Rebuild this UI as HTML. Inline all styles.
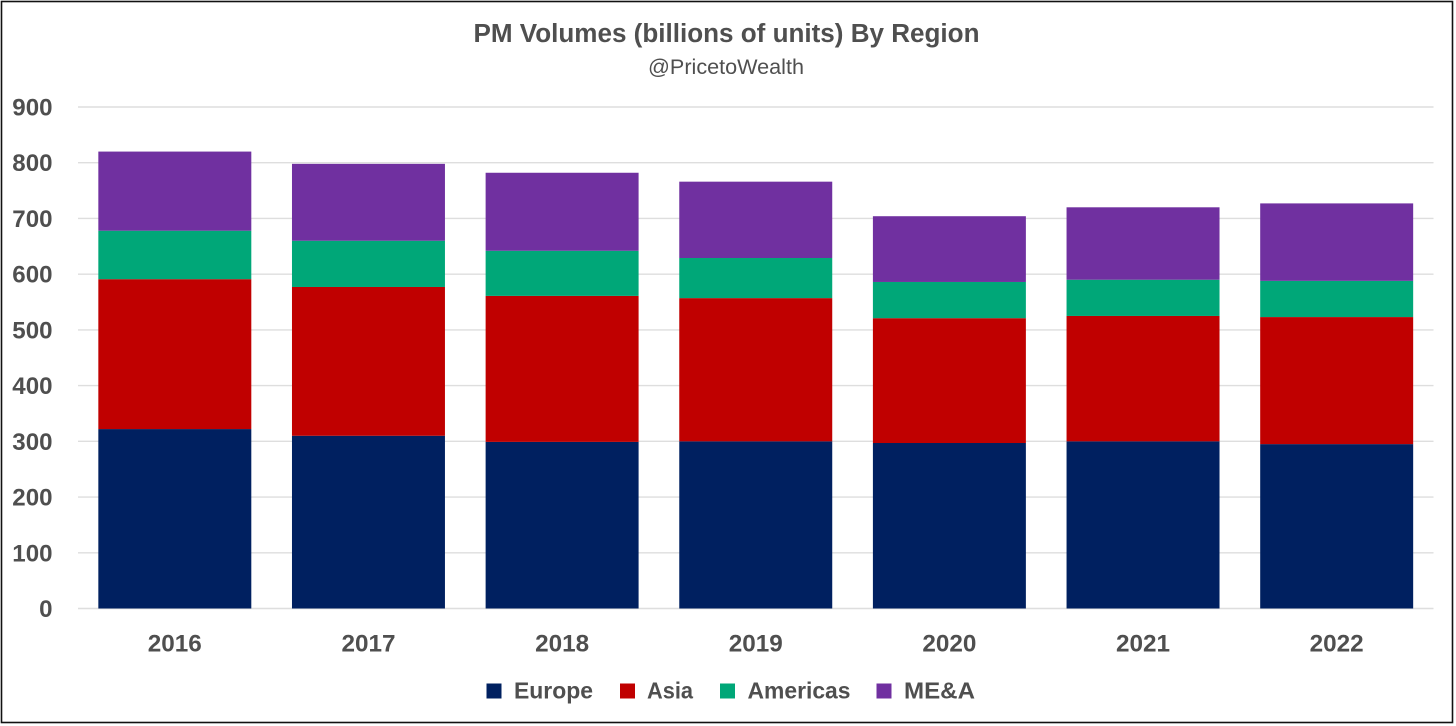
<!DOCTYPE html>
<html lang="en">
<head>
<meta charset="utf-8">
<title>PM Volumes (billions of units) By Region</title>
<style>
html,body{margin:0;padding:0;background:#fff;width:1456px;height:726px;overflow:hidden}
svg{display:block}
text{font-family:"Liberation Sans",sans-serif;fill:#4f4f4f}
</style>
</head>
<body>
<svg id="chart" xmlns="http://www.w3.org/2000/svg" width="1456" height="726" viewBox="0 0 1456 726">
  <rect x="1.5" y="1.5" width="1451" height="721" fill="#fff" stroke="#111" stroke-width="1.6"/>
  <text x="726.5" y="42" text-anchor="middle" font-size="25.5" font-weight="700" textLength="506" lengthAdjust="spacingAndGlyphs">PM Volumes (billions of units) By Region</text>
  <text x="726" y="74" text-anchor="middle" font-size="21.5" textLength="156" lengthAdjust="spacingAndGlyphs">@PricetoWealth</text>
  <g id="grid"></g>
  <g id="bars"></g>
  <g id="yaxis"></g>
  <g id="xaxis"></g>
  <g id="legend"></g>
</svg>
<script>
const categories = ['2016', '2017', '2018', '2019', '2020', '2021', '2022'];
const europe = [322, 310, 299, 300, 297, 300, 295];
const asia = [269, 267, 262, 257, 224, 225, 228];
const americas = [87, 83, 81, 72, 65, 65, 65];
const mea = [142, 138, 140, 137, 118, 130, 139];
const yTicks = [0, 100, 200, 300, 400, 500, 600, 700, 800, 900];
const seriesNames = ['Europe', 'Asia', 'Americas', 'ME&A'];
const seriesColors = ['#002060', '#C00000', '#00A778', '#7030A0'];
const seriesValues = [europe, asia, americas, mea];

const NS = 'http://www.w3.org/2000/svg';
const plotLeft = 78, plotRight = 1433.5, plotBottom = 608.5, plotTop = 107, yMax = 900;
const barRatio = 0.79;
function yScale(v) { return plotBottom - (v / yMax) * (plotBottom - plotTop); }
function xBand() { return (plotRight - plotLeft) / categories.length; }
function xCenter(i) { return plotLeft + xBand() * (i + 0.5); }
function make(tag, attrs, parent, txt) {
  const el = document.createElementNS(NS, tag);
  for (const k in attrs) el.setAttribute(k, attrs[k]);
  if (txt !== undefined) el.textContent = txt;
  parent.appendChild(el);
  return el;
}
const gridG = document.getElementById('grid');
const yG = document.getElementById('yaxis');
yTicks.forEach(function (t) {
  const line = make('line', { x1: plotLeft, x2: plotRight, y1: yScale(t), y2: yScale(t), stroke: '#dedede', 'stroke-width': 1.4 }, gridG);
  
  
  const label = make('text', { x: 52.5, y: yScale(t) + 8.5, 'text-anchor': 'end', 'font-size': 24, 'font-weight': 700, textLength: String(t).length * 13.4, lengthAdjust: 'spacingAndGlyphs' }, yG, String(t));
  
  
});
const barsG = document.getElementById('bars');
const xG = document.getElementById('xaxis');
categories.forEach(function (cat, i) {
  const w = xBand() * barRatio;
  let cum = 0;
  seriesValues.forEach(function (vals, s) {
    const y1 = yScale(cum + vals[i]);
    const y0 = yScale(cum);
    const r = make('rect', { x: xCenter(i) - w / 2, y: y1, width: w, height: y0 - y1, fill: seriesColors[s] }, barsG);
    
    
    cum += vals[i];
  });
  const label = make('text', { x: xCenter(i), y: 651.5, 'text-anchor': 'middle', 'font-size': 24, 'font-weight': 700, textLength: 54, lengthAdjust: 'spacingAndGlyphs' }, xG, cat);
  
  
});
const legendG = document.getElementById('legend');
const legendSwatchX = [486.5, 620, 720, 876.5];
const legendTextX = [514, 647, 747.5, 904];
const legendTextW = [79, 46, 103, 71];
seriesNames.forEach(function (n, s) {
  const sw = make('rect', { x: legendSwatchX[s], y: 683.5, width: 15, height: 15, fill: seriesColors[s] }, legendG);
  
  
  const tx = make('text', { x: legendTextX[s], y: 698.5, 'font-size': 23, 'font-weight': 700, textLength: legendTextW[s], lengthAdjust: 'spacingAndGlyphs' }, legendG, n);
  
  
});
</script>
</body>
</html>
